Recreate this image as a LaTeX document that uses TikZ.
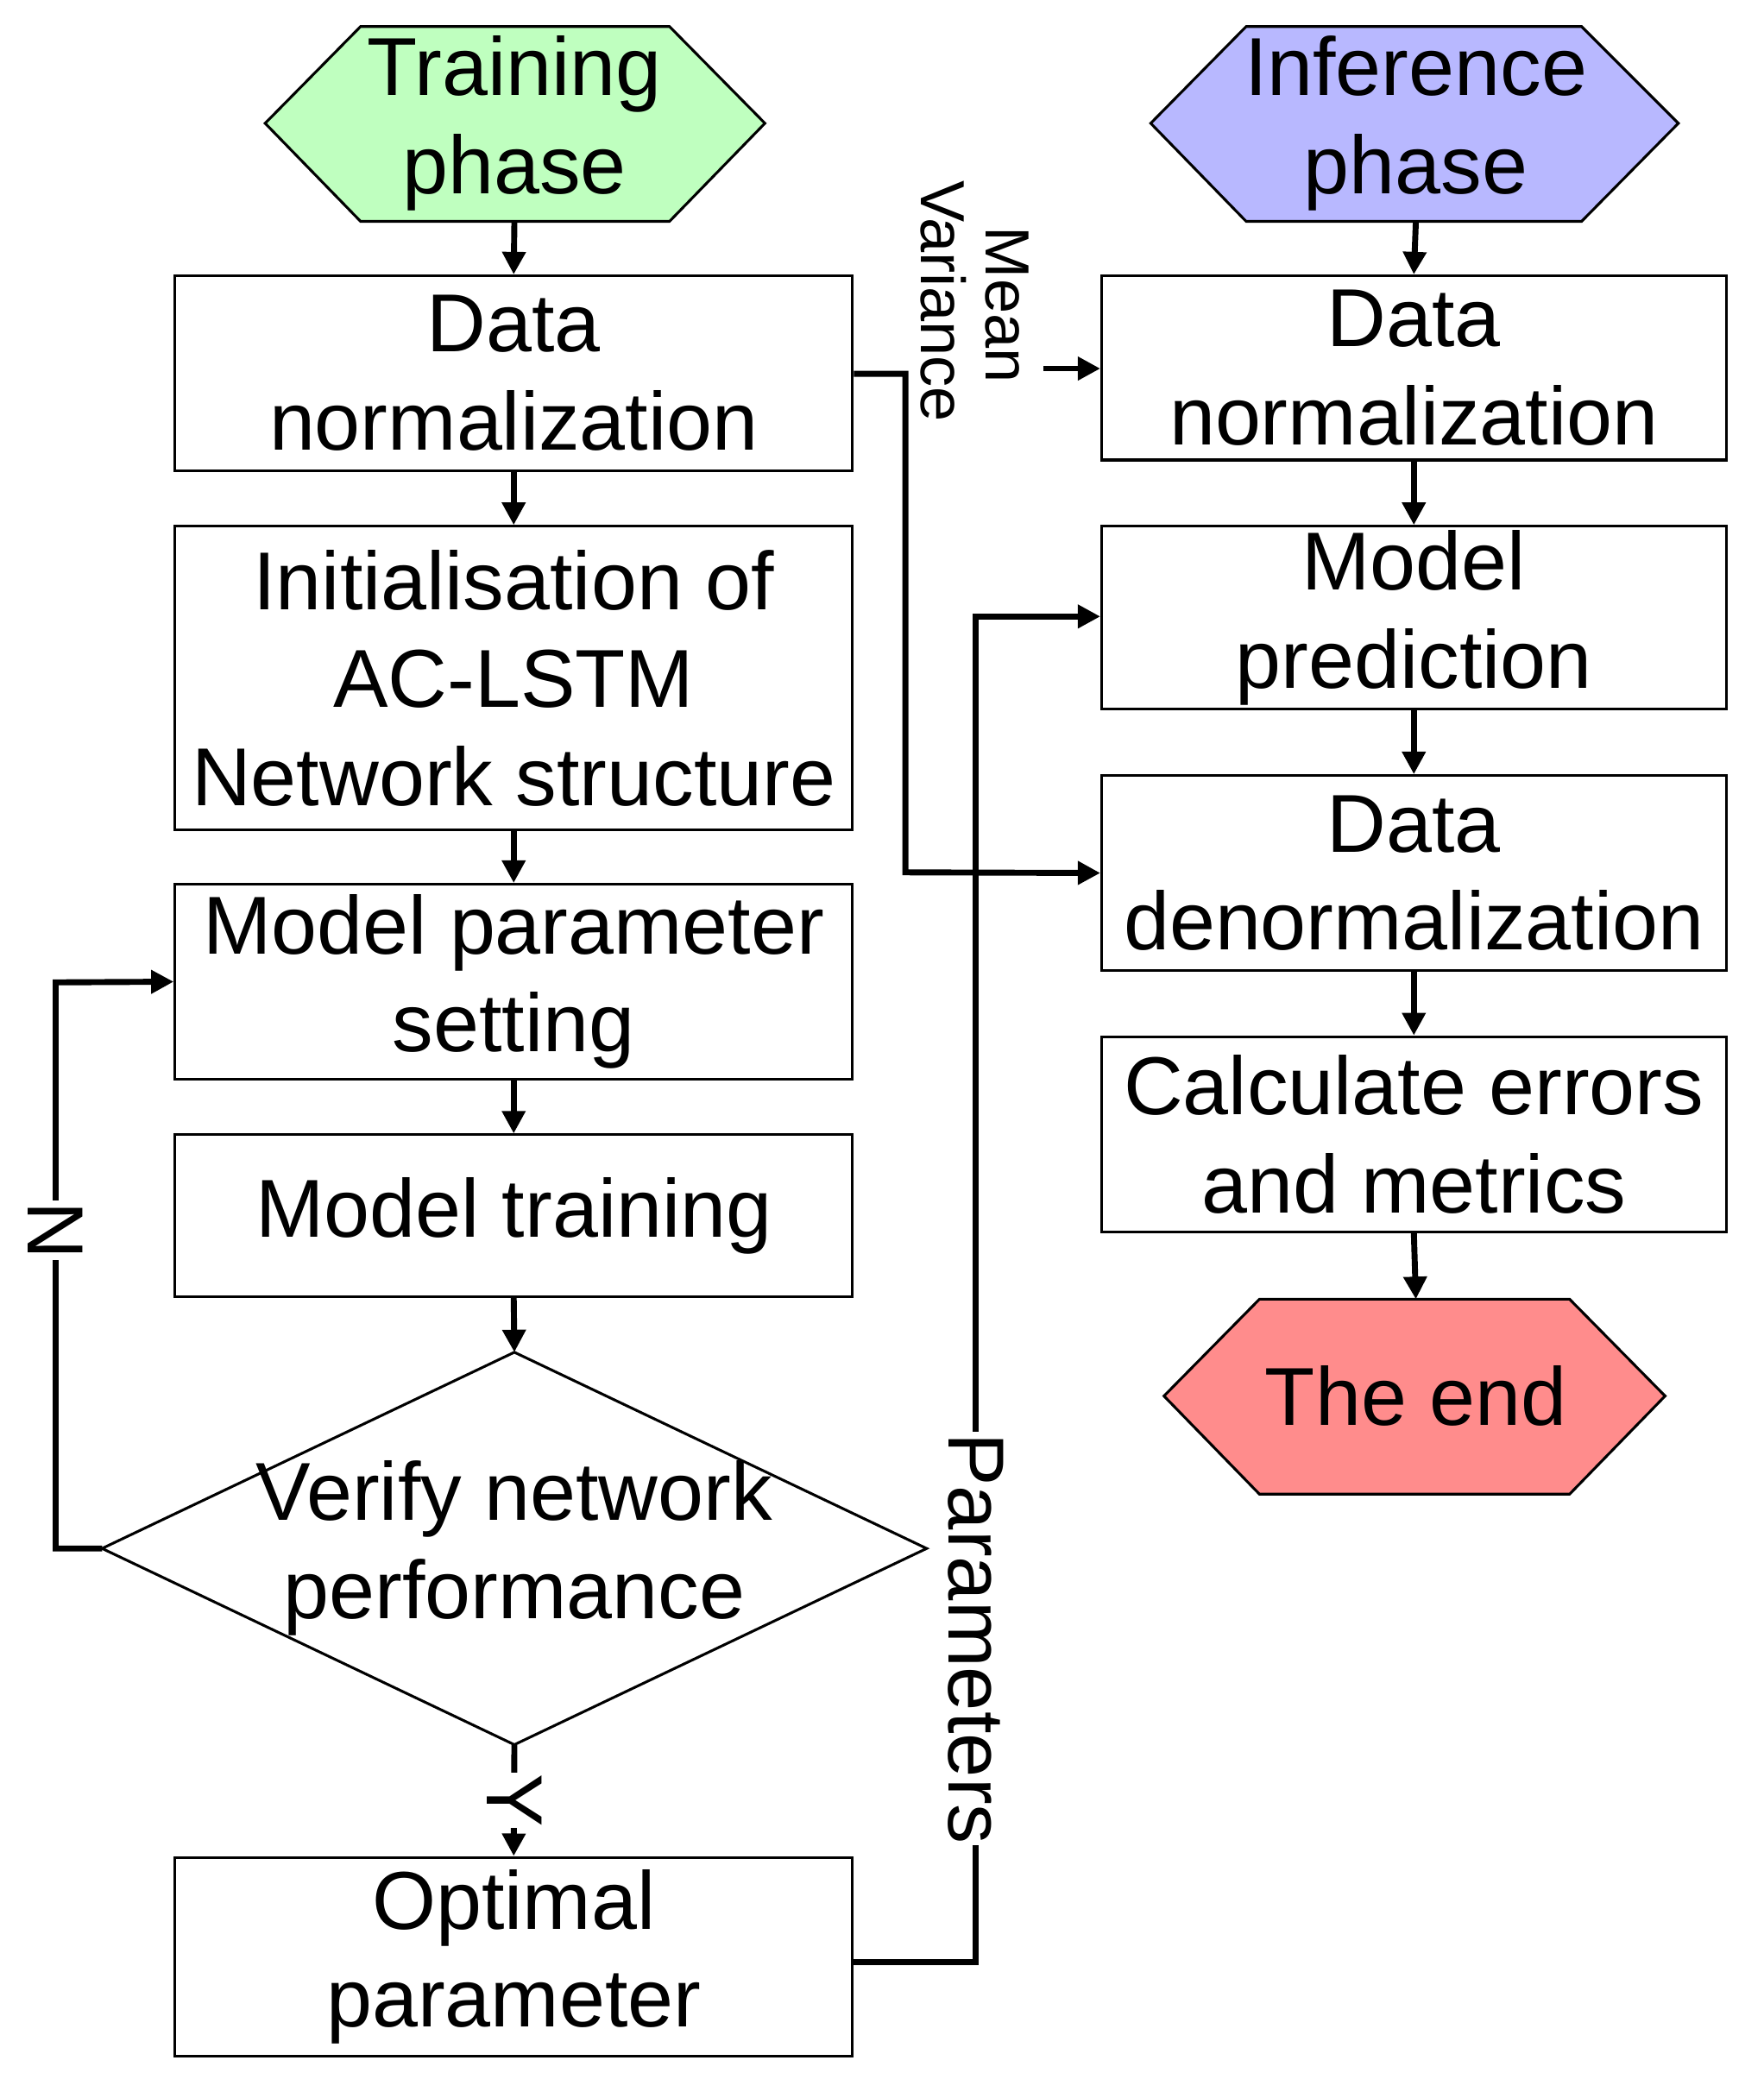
\documentclass[tikz,border=0pt]{standalone}
\usepackage{fontspec}
\setmainfont{Liberation Sans}
\usetikzlibrary{arrows.meta}
\begin{document}
\begin{tikzpicture}[x=1pt,y=-1pt,
  box/.style={draw,line width=2pt,minimum width=511pt,inner sep=0pt,align=center,font=\fontsize{62}{74}\selectfont},
  rbox/.style={box,minimum width=471pt},
  lbl/.style={font=\fontsize{62}{74}\selectfont,align=center},
  con/.style={line width=4.5pt},
  arr/.style={con,-{Triangle[length=17pt,width=17pt]}},
  rot/.style={rotate=-90,inner sep=1pt}]
\useasboundingbox (0,0) rectangle (1330,1578);
% hexagons
\fill[green!25!white,draw=black,line width=2pt] (200,93)--(272,20)--(505,20)--(577,93)--(505,167)--(272,167)--cycle;
\node[lbl] (train) at (388,93) {Training\\phase};
\coordinate (trainb) at (388,167);
\fill[blue!28!white,draw=black,line width=2pt] (868,93)--(940,20)--(1193,20)--(1266,93)--(1193,167)--(940,167)--cycle;
\node[lbl] (inf) at (1068,93) {Inference\\phase};
\coordinate (infb) at (1068,167);
\fill[red!45!white,draw=black,line width=2pt] (878,1053)--(950,980)--(1184,980)--(1256,1053)--(1184,1127)--(950,1127)--cycle;
\node[lbl] (end) at (1068,1053) {The end};
\coordinate (endt) at (1068,980);
% left boxes
\node[box,minimum height=147pt] (dn1) at (387.5,281.5) {Data\\normalization};
\node[box,minimum height=229pt] (init) at (387.5,511.5) {Initialisation of\\AC-LSTM\\Network structure};
\node[box,minimum height=147pt] (mps) at (387.5,740.5) {Model parameter\\setting};
\node[box,minimum height=122pt] (mt) at (387.5,917) {Model training};
\draw[line width=2pt] (388,1020)--(699,1168)--(388,1316)--(77,1168)--cycle;
\coordinate (dt) at (388,1020); \coordinate (dl) at (77,1168); \coordinate (db) at (388,1316);
\node[lbl] (ver) at (388,1168) {Verify network\\performance};
\node[box,minimum height=150pt] (opt) at (387.5,1476) {Optimal\\parameter};
% right boxes
\node[rbox,minimum height=139pt] (dn2) at (1066.5,277.5) {Data\\normalization};
\node[rbox,minimum height=138pt] (mp) at (1066.5,466) {Model\\prediction};
\node[rbox,minimum height=147pt] (dd) at (1066.5,658.5) {Data\\denormalization};
\node[rbox,minimum height=147pt] (calc) at (1066.5,855.5) {Calculate errors\\and metrics};
% vertical arrows
\draw[arr] (trainb)--(dn1.north);
\draw[arr] (dn1.south)--(init.north);
\draw[arr] (init.south)--(mps.north);
\draw[arr] (mps.south)--(mt.north);
\draw[arr] (mt.south)--(dt);
\draw[arr] (db)--(opt.north);
\node[rot,fill=white,font=\fontsize{60}{60}\selectfont] (y) at (388,1358) {Y};
\draw[arr] (infb)--(dn2.north);
\draw[arr] (dn2.south)--(mp.north);
\draw[arr] (mp.south)--(dd.north);
\draw[arr] (dd.south)--(calc.north);
\draw[arr] (calc.south)--(endt);
% N loop
\draw[arr] (dl)--(42,1168)--(42,741)--(mps.west);
\node[rot,fill=white,font=\fontsize{60}{60}\selectfont] (n) at (42,928) {N};
% mean variance
\draw[arr] (dn1.east |- 0,282)--(683,282)--(683,658)--(dd.west);
\coordinate (mvs) at (787,278);
\draw[arr] (mvs)--(dn2.west |- mvs);
\node[rot,font=\fontsize{47}{47}\selectfont,anchor=west] (var) at (712,135) {Variance};
\node[rot,font=\fontsize{47}{47}\selectfont,anchor=west] (mean) at (760,170) {Mean};
% parameters
\draw[arr] (opt.east |- 0,1480)--(736,1480)--(736,465)--(mp.west |- 0,465);
\node[rot,fill=white,font=\fontsize{60}{60}\selectfont] (par) at (736,1236) {Parameters};
\end{tikzpicture}
\end{document}
